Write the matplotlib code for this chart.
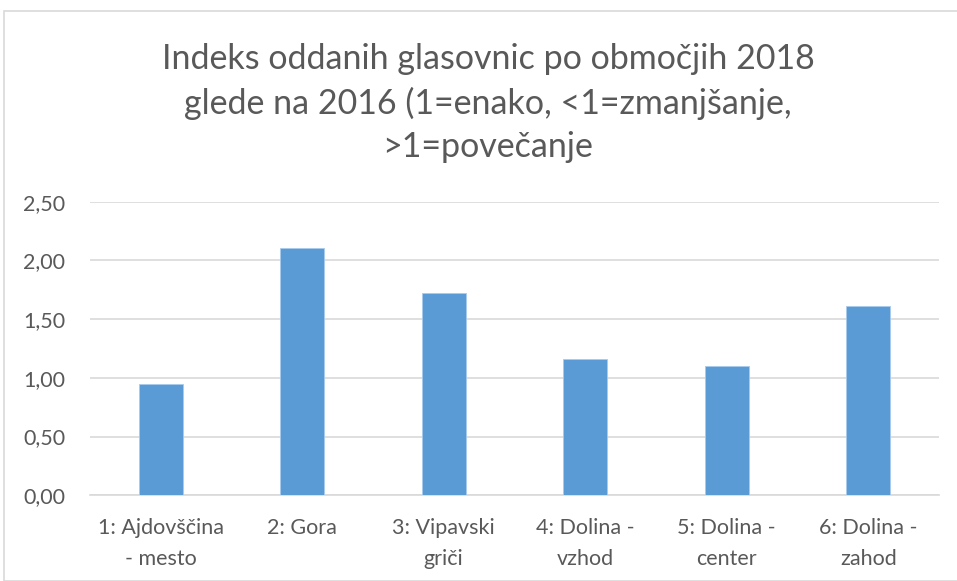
import matplotlib.pyplot as plt
from matplotlib.patches import Rectangle

categories = ["1: Ajdovščina\n- mesto", "2: Gora", "3: Vipavski\ngriči",
              "4: Dolina -\nvzhod", "5: Dolina -\ncenter", "6: Dolina -\nzahod"]
values = [0.95, 2.11, 1.72, 1.16, 1.10, 1.61]
yticks = [0.0, 0.5, 1.0, 1.5, 2.0, 2.5]
title = "Indeks oddanih glasovnic po območjih 2018\nglede na 2016 (1=enako, <1=zmanjšanje,\n>1=povečanje"

plt.rcParams['font.family'] = ['Lato', 'DejaVu Sans']
W, H = 957, 581
fig = plt.figure(figsize=(W / 100, H / 100), dpi=100)

# outer chart frame
fig.patches.append(Rectangle((4 / W, 0), 1, 1 - 11 / H, transform=fig.transFigure,
                             fill=False, edgecolor="#d9d9d9", linewidth=1.2))

ax = fig.add_axes([90 / W, 1 - 495.3 / H, (939 - 90) / W, (495.3 - 201.7) / H])
x = range(len(categories))
ax.bar(x, values, width=0.31, color="#5b9bd5", edgecolor="#a9cbec", linewidth=0.6, zorder=3)
ax.set_xlim(-0.5, len(categories) - 0.5)
ax.set_ylim(0, 2.5)
ax.set_yticks(yticks)
ax.set_yticklabels([f"{v:.2f}".replace(".", ",") for v in yticks])
ax.set_xticks(list(x))
ax.set_xticklabels(categories, linespacing=1.7)
ax.tick_params(length=0, labelsize=15.5, labelcolor="#595959")
ax.tick_params(axis="y", pad=18)
ax.tick_params(axis="x", pad=16)
ax.grid(axis="y", color="#d9d9d9", linewidth=1.2, zorder=0)
for s in ["top", "right", "left"]:
    ax.spines[s].set_visible(False)
ax.spines["bottom"].set_color("#d9d9d9")
ax.spines["bottom"].set_linewidth(1.2)

fig.text(488 / W, 1 - 103 / H, title, ha="center", va="center", fontsize=24.5,
         color="#595959", linespacing=1.42)

fig.savefig("out.png", dpi=100)
